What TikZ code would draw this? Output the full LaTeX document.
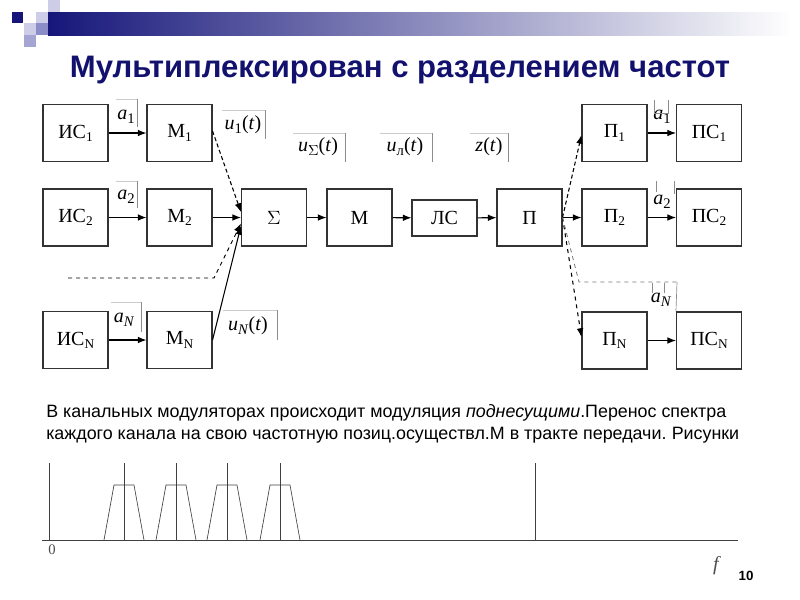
\documentclass[tikz,border=0pt]{standalone}
\usepackage{fontspec}
\setmainfont{Liberation Serif}
\newfontfamily\arialf{Liberation Sans}
\usetikzlibrary{arrows.meta,calc}
\definecolor{navy}{RGB}{22,22,122}
\definecolor{midbl}{RGB}{135,135,195}
\definecolor{lavA}{RGB}{205,205,232}
\definecolor{lavB}{RGB}{165,165,212}
\definecolor{lavC}{RGB}{140,140,200}
\definecolor{titlec}{RGB}{18,18,110}
\newcommand\sbs[1]{\raisebox{-0.35ex}{\fontsize{10}{10}\selectfont #1}}
\newcommand\sbl[1]{\raisebox{-0.4ex}{\fontsize{11}{11}\selectfont #1}}
\tikzset{
 blk/.style={draw=black!80, line width=0.8pt, fill=white, minimum width=48.75pt, minimum height=42.75pt, inner sep=0pt, font=\fontsize{15}{17}\selectfont},
 arr/.style={-{Latex[length=6.5pt,width=5pt]}, line width=0.8pt, black},
 lbl/.style={font=\fontsize{15}{17}\selectfont, inner sep=0pt},
 frm/.style={black!45, line width=0.5pt},
 frmt/.style={black!20, line width=0.5pt},
 spec/.style={black!75, line width=0.5pt},
 para/.style={font=\arialf\fontsize{13.4}{16}\selectfont, inner sep=0pt, anchor=west}
}
\begin{document}
\begin{tikzpicture}[x=0.75pt,y=-0.75pt]
\useasboundingbox (0,0) rectangle (800,600);
% header decoration
\shade[left color=navy, middle color=midbl, right color=white] (48,12) rectangle (792,35);
\fill[navy] (12,12) rectangle (23,23);
\fill[lavA] (36,12) rectangle (48,23);
\fill[lavA] (48,0) rectangle (60,12);
\fill[lavA] (24,23) rectangle (36,35);
\fill[lavC] (36,23) rectangle (48,35);
\fill[lavB] (24,35) rectangle (36,47);
% title
\node[font=\arialf\bfseries\fontsize{23.3}{26}\selectfont, text=titlec] (title) at (400,70) {Мультиплексирован с разделением частот};
% blocks
\node[blk] (IS1) at (75.5,133) {ИС\sbs{1}};
\node[blk] (M1) at (179.5,133) {М\sbs{1}};
\node[blk] (IS2) at (75.5,217.5) {ИС\sbs{2}};
\node[blk] (M2) at (179.5,217.5) {М\sbs{2}};
\node[blk] (ISN) at (75.5,340) {ИС\sbs{N}};
\node[blk] (MN) at (179.5,340) {М\sbs{N}};
\node[blk] (Sig) at (274,217.5) {$\Sigma$};
\node[blk] (Mod) at (359.5,217.5) {М};
\node[blk, minimum height=27pt] (LS) at (444.5,218) {ЛС};
\node[blk] (P) at (529.5,217.5) {П};
\node[blk] (P1) at (614.5,133) {П\sbs{1}};
\node[blk] (PS1) at (709,133) {ПС\sbs{1}};
\node[blk] (P2) at (614.5,217.5) {П\sbs{2}};
\node[blk] (PS2) at (709,217.5) {ПС\sbs{2}};
\node[blk] (PN) at (614.5,340.5) {П\sbs{N}};
\node[blk] (PSN) at (709,340.5) {ПС\sbs{N}};
% straight arrows
\draw[arr] (IS1) -- (M1);
\draw[arr] (IS2) -- (M2);
\draw[arr] (ISN) -- (MN);
\draw[arr] (Sig) -- (Mod);
\draw[arr] (Mod) -- (LS);
\draw[arr] (LS) -- (P);
\draw[arr] (P1) -- (PS1);
\draw[arr] (P2) -- (PS2);
\draw[arr] (PN) -- (PSN);
% into summator
\draw[arr, densely dashed] ($(M1.east)+(0,-2)$) -- ($(Sig.west)+(0,-5.5)$);
\draw[arr] (M2.east) -- (Sig.west);
\coordinate (dst) at (68,278);
\coordinate (dbend) at (214,278);
\draw[arr, dashed, line width=0.7pt] (dst) -- (dbend) -- ($(Sig.west)+(0,6)$);
\draw[arr] (MN.east) -- ($(Sig.west)+(0,8.5)$);
% fan-out of the filter
\draw[arr, densely dashed] (P.east) -- ($(P1.west)+(0,2)$);
\draw[arr] (P.east) -- (P2.west);
\draw[arr, dashed] (P.east) -- ($(PN.west)+(0,-3.5)$);
\coordinate (rbend) at (579,282);
\coordinate (rend) at (677,282);
\draw[dashed, black!55, line width=0.6pt] (P.east) -- (rbend) -- (rend);
\draw[frm] (rend) -- (PSN.north west);
% labels left
\node[lbl] (la1) at (126,117) {\textit{a}\sbl{1}};
\node[lbl] (la2) at (126,197) {\textit{a}\sbl{2}};
\node[lbl] (laN) at (124,320) {\textit{a}\sbl{\textit{N}}};
\node[lbl] (lu1) at (243,125) {\textit{u}\sbl{1}(\textit{t})};
\node[lbl] (luN) at (248,326) {\textit{u}\sbl{\textit{N}}(\textit{t})};
\node[lbl] (luS) at (318,147) {\textit{u}\sbl{$\Sigma$}(\textit{t})};
\node[lbl] (luL) at (405,147) {\textit{u}\sbl{л}(\textit{t})};
\node[lbl] (lz) at (489,147) {\textit{z}(\textit{t})};
% labels right
\node[lbl] (ra1) at (662,117) {\textit{a}\sbl{1}};
\node[lbl] (ra2) at (662,202) {\textit{a}\sbl{2}};
\node[lbl] (raN) at (661,300) {\textit{a}\sbl{\textit{N}}};
% label frames
\draw[frmt] (116,99) -- (137,99); \draw[frm] (137,99) -- (137,127);
\draw[frmt] (116,181) -- (137,181); \draw[frm] (137,181) -- (137,208);
\draw[frmt] (111,302) -- (141,302); \draw[frm] (141,302) -- (141,332);
\draw[frmt] (222,110) -- (265,110); \draw[frm] (265,110) -- (265,139);
\draw[frmt] (223,310) -- (277,310); \draw[frm] (277,310) -- (277,340);
\draw[frmt] (293,133) -- (345,133); \draw[frm] (345,133) -- (345,162);
\draw[frmt] (380,133) -- (432,133); \draw[frm] (432,133) -- (432,162);
\draw[frmt] (470,133) -- (508,133); \draw[frm] (508,133) -- (508,162);
\draw[frm] (654,100) -- (654,113) -- (668,113) -- (668,100);
\draw[frm] (656,181) -- (656,192); \draw[frm] (674,181) -- (674,194);
\draw[frm] (652,283) -- (652,293); \draw[frm] (664,283) -- (664,293);
% paragraph
\node[para] (t1) at (46,413) {В канальных модуляторах происходит модуляция \textit{поднесущими}.Перенос спектра};
\node[para] (t2) at (46,435) {каждого канала на свою частотную позиц.осуществл.М в тракте передачи.\hspace{-1pt} Рисунки};
% spectrum
\draw[spec] (42,540) -- (738,540);
\draw[spec] (49,463) -- (49,540);
\foreach \c in {124,176,227,280}{
  \draw[spec] (\c-20,540) -- (\c-10,485) -- (\c+10,485) -- (\c+20,540);
  \draw[spec] (\c,463) -- (\c,540);
}
\draw[spec] (535,463) -- (535,540);
\node[font=\fontsize{11}{12}\selectfont, text=black!70] (zero) at (52,550) {0};
\node[font=\fontsize{15}{17}\selectfont\itshape, text=black!70] (fl) at (716,566) {f};
\node[font=\arialf\bfseries\fontsize{10}{11}\selectfont] (pg) at (746,576) {10};
\end{tikzpicture}
\end{document}
